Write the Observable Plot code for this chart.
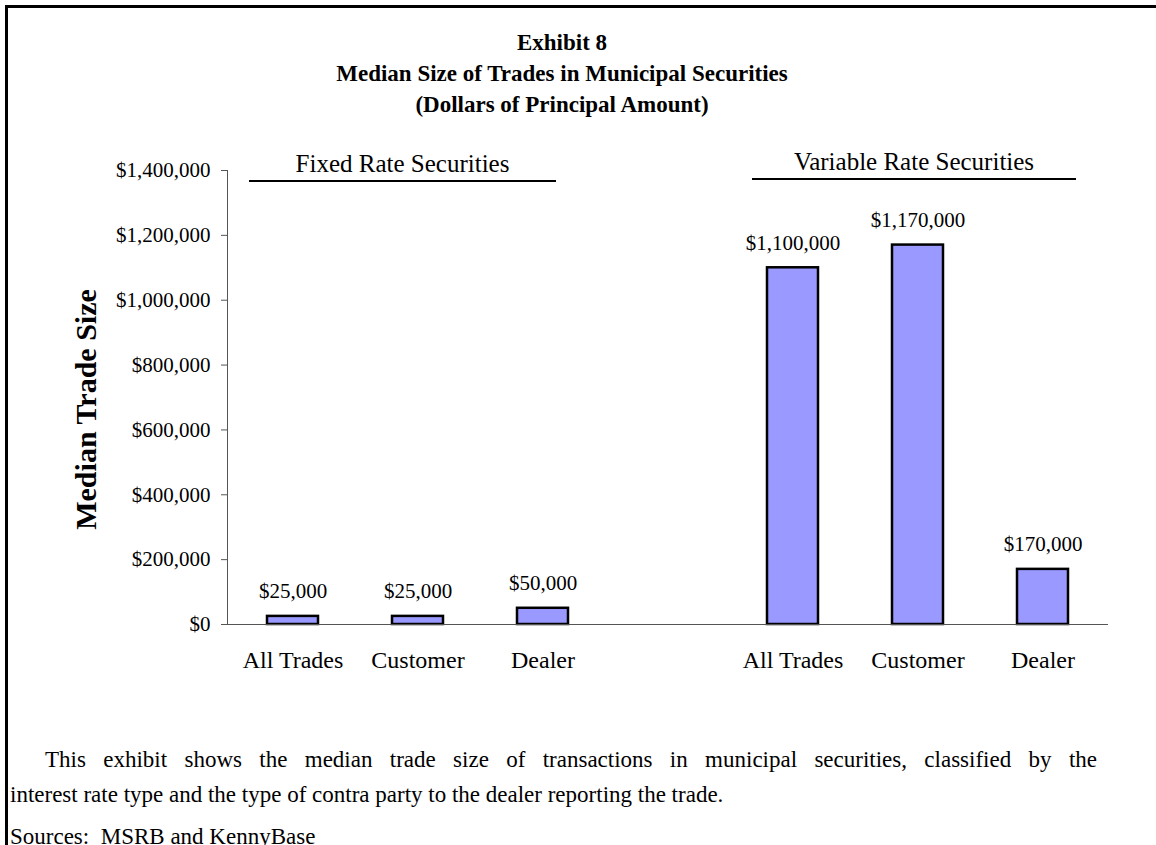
<!DOCTYPE html>
<html>
<head>
<meta charset="utf-8">
<script src="https://cdn.jsdelivr.net/npm/d3@7"></script>
<script src="https://cdn.jsdelivr.net/npm/@observablehq/plot@0.6"></script>
<style>
  body { margin: 0; background: #fff; font-family: "Liberation Serif", "Times New Roman", serif; color: #000; }
  #page { position: relative; width: 1156px; height: 845px; overflow: hidden; }
  #box { position: absolute; left: 5px; top: 5px; right: -20px; bottom: -20px;
         border-top: 3px solid #000; border-left: 3px solid #000; }
  #title { position: absolute; left: 0; width: 1124px; top: 27px; text-align: center;
           font-weight: bold; font-size: 23px; line-height: 31px; }
  #chart { position: absolute; left: 0; top: 130px; }
  .note { position: absolute; margin: 0; font-size: 23px; line-height: 35px; white-space: nowrap; }
  .just { text-align: justify; text-align-last: justify; white-space: normal; }
</style>
</head>
<body>
<div id="page">
  <div id="box"></div>
  <div id="title">Exhibit 8<br>Median Size of Trades in Municipal Securities<br>(Dollars of Principal Amount)</div>
  <div id="chart"></div>
  <p class="note just" style="left:45px; width:1052px; top:742px;">This exhibit shows the median trade size of transactions in municipal securities, classified by the</p>
  <p class="note" style="left:10px; top:777px;">interest rate type and the type of contra party to the dealer reporting the trade.</p>
  <p class="note" style="left:10px; top:819px;">Sources:&nbsp; MSRB and KennyBase</p>
</div>
<script>
// Median trade size (dollars of principal) by contra-party type
const tradeTypes = ["All Trades", "Customer", "Dealer"];
const fixedRate = [25000, 25000, 50000];
const variableRate = [1100000, 1170000, 170000];
const groupNames = ["Fixed Rate Securities", "Variable Rate Securities"];
const yTicks = [0, 200000, 400000, 600000, 800000, 1000000, 1200000, 1400000];

const rows = [
  ...tradeTypes.map((t, i) => ({key: "F" + i, label: t, value: fixedRate[i]})),
  ...tradeTypes.map((t, i) => ({key: "V" + i, label: t, value: variableRate[i]}))
];
// an empty slot separates the two rate groups
const xDomain = ["F0", "F1", "F2", "gap", "V0", "V1", "V2"];
const labelOf = new Map(rows.map(r => [r.key, r.label]));
const money = d3.format("$,");
const serif = "'Liberation Serif', 'Times New Roman', serif";

const chart = Plot.plot({
  width: 1156,
  height: 544,
  marginTop: 40,
  marginBottom: 50,
  marginLeft: 227,
  marginRight: 48,
  style: {fontFamily: serif, fontSize: "21px", color: "#000", background: "transparent", overflow: "visible"},
  x: {domain: xDomain, paddingInner: 0.595, paddingOuter: 0.2975, axis: null},
  y: {domain: [0, 1400000], axis: null},
  marks: [
    Plot.barY(rows, {x: "key", y: "value", fill: "#9999ff", stroke: "#000", strokeWidth: 2.5}),
    Plot.ruleY([0], {stroke: "#555", strokeWidth: 1}),
    Plot.axisY({ticks: yTicks, tickFormat: money, tickSize: 6, tickPadding: 11,
                stroke: "#555", fill: "#000", label: null, fontSize: 21}),
    Plot.axisX({tickFormat: k => labelOf.get(k) ?? "", tickSize: 0, tickPadding: 26,
                label: null, fontSize: 24, fill: "#000"}),
    Plot.text(rows, {x: "key", y: "value", text: d => money(d.value), dy: -25,
                     lineAnchor: "middle", fontSize: 21, fill: "#000"}),
    Plot.text(["Median Trade Size"], {frameAnchor: "left", dx: -141, dy: 12, rotate: -90,
                     textAnchor: "middle", lineAnchor: "middle",
                     fontSize: 30, fontWeight: "bold", fill: "#000"})
  ]
});

document.getElementById("chart").append(chart);

// y-axis spine and the two group headers with their underlines
const xs = chart.scale("x");
const ys = chart.scale("y");
const bw = xs.bandwidth;
const frameTop = ys.apply(1400000);
const svg = d3.select(chart);

svg.append("line")
  .attr("x1", 227.5).attr("x2", 227.5)
  .attr("y1", ys.apply(1400000)).attr("y2", ys.apply(0))
  .attr("stroke", "#555").attr("stroke-width", 1);

const headers = [
  {name: groupNames[0], x1: xs.apply("F0") - 18, x2: xs.apply("F2") + bw - 12, off: 11},
  {name: groupNames[1], x1: xs.apply("V0") - 15, x2: xs.apply("V2") + bw + 8, off: 9}
];
const hg = svg.append("g");
hg.selectAll("line").data(headers).join("line")
  .attr("x1", d => d.x1).attr("x2", d => d.x2)
  .attr("y1", d => frameTop + d.off).attr("y2", d => frameTop + d.off)
  .attr("stroke", "#000").attr("stroke-width", 2);
hg.selectAll("text").data(headers).join("text")
  .attr("x", d => (d.x1 + d.x2) / 2)
  .attr("y", d => frameTop + d.off - 9)
  .attr("text-anchor", "middle")
  .attr("font-family", serif)
  .attr("font-size", 25)
  .attr("fill", "#000")
  .text(d => d.name);
</script>
</body>
</html>
